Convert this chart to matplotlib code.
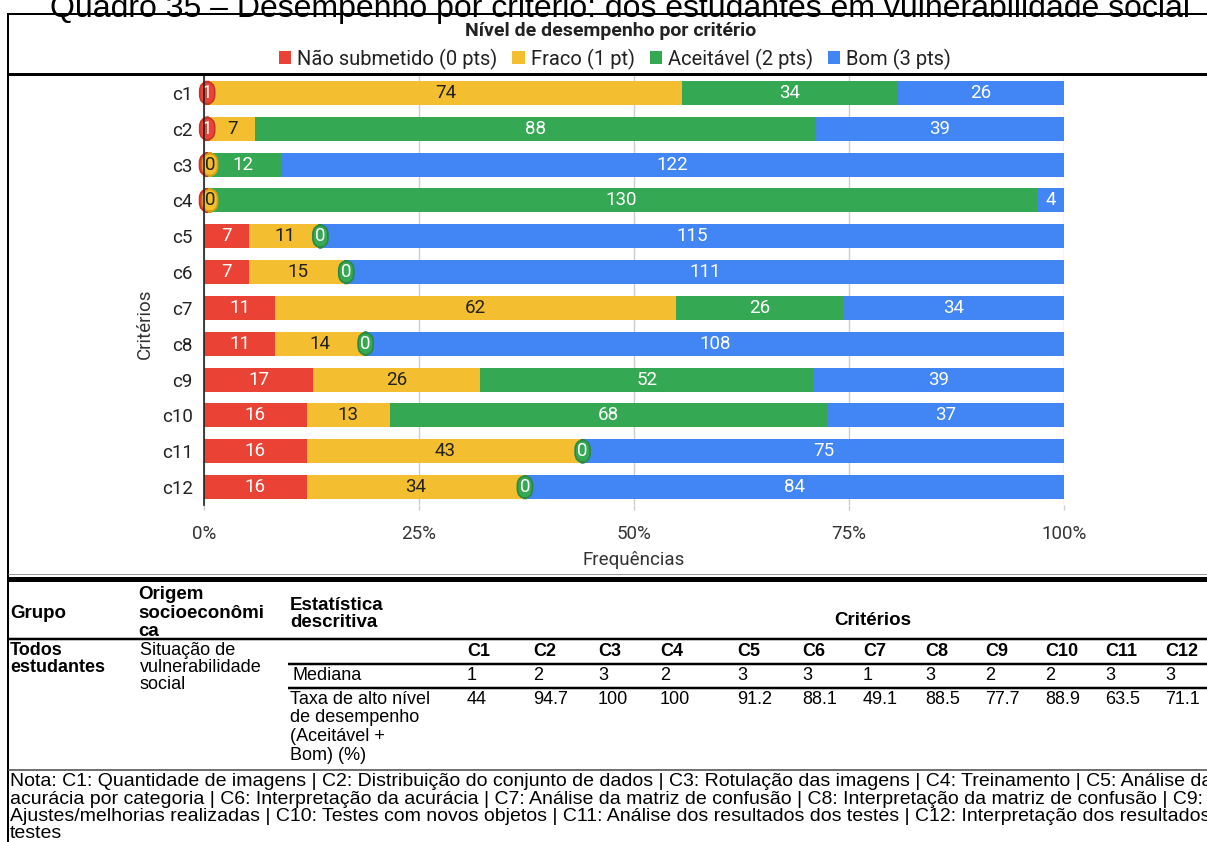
import matplotlib
matplotlib.use("Agg")
import matplotlib.pyplot as plt
from matplotlib.lines import Line2D
from matplotlib.patches import Patch
import numpy as np

# ---- data -------------------------------------------------------------
criteria = ["c1", "c2", "c3", "c4", "c5", "c6", "c7", "c8", "c9", "c10", "c11", "c12"]
level_names = ["Não submetido (0 pts)", "Fraco (1 pt)", "Aceitável (2 pts)", "Bom (3 pts)"]
nao_submetido = [1, 1, 0, 0, 7, 7, 11, 11, 17, 16, 16, 16]
fraco = [74, 7, 0, 0, 11, 15, 62, 14, 26, 13, 43, 34]
aceitavel = [34, 88, 12, 130, 0, 0, 26, 0, 52, 68, 0, 0]
bom = [26, 39, 122, 4, 115, 111, 34, 108, 39, 37, 75, 84]
x_ticks = [0, 25, 50, 75, 100]
x_tick_labels = ["0%", "25%", "50%", "75%", "100%"]

table_cols = ["C1", "C2", "C3", "C4", "C5", "C6", "C7", "C8", "C9", "C10", "C11", "C12"]
mediana = ["1", "2", "3", "2", "3", "3", "1", "3", "2", "2", "3", "3"]
taxa_alto = ["44", "94.7", "100", "100", "91.2", "88.1", "49.1", "88.5", "77.7", "88.9", "63.5", "71.1"]

title = "Quadro 35 – Desempenho por critério: dos estudantes em vulnerabilidade social"
chart_title = "Nível de desempenho por critério"
note_lines = [
    "Nota: C1: Quantidade de imagens | C2: Distribuição do conjunto de dados | C3: Rotulação das imagens | C4: Treinamento | C5: Análise da",
    "acurácia por categoria | C6: Interpretação da acurácia | C7: Análise da matriz de confusão | C8: Interpretação da matriz de confusão | C9:",
    "Ajustes/melhorias realizadas | C10: Testes com novos objetos | C11: Análise dos resultados dos testes | C12: Interpretação dos resultados dos",
    "testes",
]

colors = ["#EA4335", "#F3BE30", "#34A853", "#4285F4"]
pill_edges = ["#C5362A", "#D99E12", "#2A8A44", "#3570D0"]
label_colors = ["white", "#222222", "white", "white"]

# ---- figure -----------------------------------------------------------
W, H = 1207, 842
fig = plt.figure(figsize=(W / 100, H / 100), dpi=100)
fig.patch.set_facecolor("white")


def fx(x):
    return x / W


def fy(y):
    return 1 - y / H


def hline(y, x0, x1, lw_px, color="black"):
    fig.add_artist(Line2D([fx(x0), fx(x1)], [fy(y), fy(y)], transform=fig.transFigure,
                          lw=lw_px * 0.72, color=color, solid_capstyle="butt"))


def vline(x, y0, y1, lw_px, color="black"):
    fig.add_artist(Line2D([fx(x), fx(x)], [fy(y0), fy(y1)], transform=fig.transFigure,
                          lw=lw_px * 0.72, color=color, solid_capstyle="butt"))


ARIAL = "Liberation Sans"
ROBOTO = "Roboto"

# page title (runs off the top edge)
fig.text(fx(620), fy(17), title, ha="center", va="baseline", fontsize=23, family=ARIAL, color="black")

# frame
hline(14, 8, W, 2)
vline(8, 13, H, 2)
hline(73.5, 8, W, 3)

# chart title and legend
fig.text(fx(611), fy(31), chart_title, ha="center", va="center", fontsize=14, family=ROBOTO,
         fontweight="bold", color="#222222")
handles = [Patch(facecolor=c, edgecolor="none") for c in colors]
fig.legend(handles, level_names, loc="center", bbox_to_anchor=(fx(615), fy(59)), ncol=4,
           frameon=False, handlelength=0.6, handleheight=0.6, handletextpad=0.3,
           columnspacing=0.75, prop={"family": ROBOTO, "size": 14.5}, labelcolor="#222222",
           borderaxespad=0, borderpad=0)

# ---- stacked bar chart ------------------------------------------------
ax = fig.add_axes([fx(204), fy(505), (1064 - 204) / W, (505 - 75) / H])
counts = np.array([nao_submetido, fraco, aceitavel, bom], dtype=float)
totals = counts.sum(axis=0)
pct = counts / totals * 100
y = np.arange(len(criteria))
left = np.zeros(len(criteria))
bar_h = 0.67
for k in range(4):
    ax.barh(y, pct[k], left=left, height=bar_h, color=colors[k], edgecolor="none", zorder=2)
    for i in range(len(criteria)):
        val = int(counts[k, i])
        w = pct[k, i]
        cx = left[i] + w / 2
        if w < 1.0:
            # tiny or empty segment: value shown in a small pill
            cx = max(cx, 0.35 + 0.35 * k)
            ax.text(cx, y[i], str(val), ha="center", va="center", fontsize=13.5, family=ROBOTO,
                    color=label_colors[k], zorder=4 + k,
                    bbox=dict(boxstyle="round,pad=0.12,rounding_size=0.5", facecolor=colors[k],
                              edgecolor=pill_edges[k], lw=1.2))
        else:
            ax.text(cx, y[i], str(val), ha="center", va="center", fontsize=13.5, family=ROBOTO,
                    color=label_colors[k], zorder=3)
    left += pct[k]

ax.set_xlim(0, 100)
ax.set_ylim(len(criteria) - 0.5, -0.5)
ax.set_yticks(y)
ax.set_yticklabels(criteria, family=ROBOTO, fontsize=13.5, color="#222222")
ax.set_xticks(x_ticks)
ax.set_xticklabels(x_tick_labels, family=ROBOTO, fontsize=13.5, color="#333333")
ax.tick_params(axis="y", length=0, pad=8)
ax.tick_params(axis="x", length=3.6, width=1, color="#cccccc", pad=11)
ax.xaxis.get_major_ticks()[0].tick1line.set_color("black")
ax.grid(axis="x", color="#cccccc", lw=1, zorder=0)
ax.set_axisbelow(True)
for s in ["top", "right", "bottom"]:
    ax.spines[s].set_visible(False)
ax.spines["left"].set_color("#222222")
ax.spines["left"].set_linewidth(1.2)
ax.spines["left"].set_zorder(6)
ax.patch.set_alpha(0)

fig.text(fx(634), fy(560), "Frequências", ha="center", va="center", fontsize=13.5, family=ROBOTO,
         color="#333333")
fig.text(fx(145), fy(324), "Critérios", ha="center", va="center", rotation=90, fontsize=13.5,
         family=ROBOTO, color="#333333")

# ---- table ------------------------------------------------------------
hline(573.5, 8, W, 1, "#999999")
hline(578.5, 8, W, 5)

TFS = 13
fig.text(fx(10), fy(618), "Grupo", ha="left", va="baseline", fontsize=TFS + 0.5, family=ARIAL,
         fontweight="bold")
for j, s in enumerate(["Origem", "socioeconômi", "ca"]):
    fig.text(fx(138), fy(599 + 18.5 * j), s, ha="left", va="baseline", fontsize=TFS + 0.5, family=ARIAL,
             fontweight="bold")
for j, s in enumerate(["Estatística", "descritiva"]):
    fig.text(fx(290), fy(610 + 17 * j), s, ha="left", va="baseline", fontsize=TFS + 0.5, family=ARIAL,
             fontweight="bold")
fig.text(fx(873), fy(625), "Critérios", ha="center", va="baseline", fontsize=TFS + 0.5, family=ARIAL,
         fontweight="bold")

hline(638.5, 8, W, 2.5)

for j, s in enumerate(["Todos", "estudantes"]):
    fig.text(fx(10), fy(655 + 16.5 * j), s, ha="left", va="baseline", fontsize=TFS, family=ARIAL,
             fontweight="bold")
for j, s in enumerate(["Situação de", "vulnerabilidade", "social"]):
    fig.text(fx(140), fy(655 + 17 * j), s, ha="left", va="baseline", fontsize=TFS, family=ARIAL)

col_x = [467, 533, 598, 660, 737, 802, 863, 925, 985, 1045, 1105, 1165]
for cx, c in zip(col_x, table_cols):
    fig.text(fx(cx), fy(656), c, ha="left", va="baseline", fontsize=TFS, family=ARIAL, fontweight="bold")
hline(663.5, 288, W, 2.5)
fig.text(fx(293), fy(680), "Mediana", ha="left", va="baseline", fontsize=TFS, family=ARIAL)
for cx, v in zip(col_x, mediana):
    fig.text(fx(cx), fy(680), v, ha="left", va="baseline", fontsize=TFS, family=ARIAL)
hline(687.5, 288, W, 2.5)
for j, s in enumerate(["Taxa de alto nível", "de desempenho", "(Aceitável +", "Bom) (%)"]):
    fig.text(fx(290), fy(704 + 18.5 * j), s, ha="left", va="baseline", fontsize=TFS, family=ARIAL)
for cx, v in zip(col_x, taxa_alto):
    fig.text(fx(cx), fy(704), v, ha="left", va="baseline", fontsize=TFS, family=ARIAL)

hline(769.5, 8, W, 1.5, "#444444")

# footnote
for j, s in enumerate(note_lines):
    fig.text(fx(10), fy(786 + 17.5 * j), s, ha="left", va="baseline", fontsize=14, family=ARIAL)

fig.savefig("out.png", dpi=100, facecolor="white")
